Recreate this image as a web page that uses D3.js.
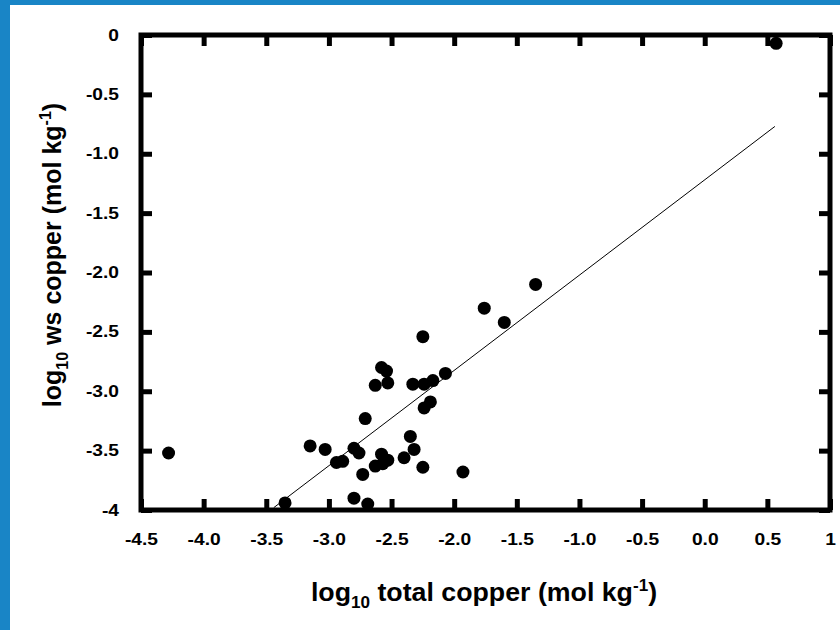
<!DOCTYPE html>
<html>
<head>
<meta charset="utf-8">
<script src="https://cdn.jsdelivr.net/npm/d3@7/dist/d3.min.js"></script>
<style>
  html, body { margin: 0; padding: 0; background: #ffffff; }
  svg { display: block; }
</style>
</head>
<body>
<svg id="chart" width="840" height="630"></svg>
<script>
// ---- data ----
const totalCopper = [-4.28, -3.15, -3.03, -2.94, -2.89, -2.80, -2.76, -2.73, -2.71, -2.80, -2.69,
  -2.63, -2.58, -2.54, -2.53, -2.63, -2.58, -2.53, -2.57, -2.40, -2.35, -2.32, -2.25,
  -2.33, -2.24, -2.17, -2.07, -2.19, -2.24, -2.25, -1.93, -1.76, -1.60, -1.35, 0.57, -3.35];
const wsCopper = [-3.52, -3.46, -3.49, -3.60, -3.59, -3.48, -3.52, -3.70, -3.23, -3.90, -3.95,
  -2.95, -2.80, -2.83, -2.93, -3.63, -3.53, -3.58, -3.61, -3.56, -3.38, -3.49, -3.64,
  -2.94, -2.94, -2.91, -2.85, -3.09, -3.14, -2.54, -3.68, -2.30, -2.42, -2.10, -0.07, -3.94];
const fitX = [-3.44, 0.56];
const fitY = [-3.98, -0.77];
const xTicks = [-4.5, -4.0, -3.5, -3.0, -2.5, -2.0, -1.5, -1.0, -0.5, 0.0, 0.5, 1.0];
const xTickLabels = ["-4.5", "-4.0", "-3.5", "-3.0", "-2.5", "-2.0", "-1.5", "-1.0", "-0.5", "0.0", "0.5", "1"];
const yTicks = [0, -0.5, -1.0, -1.5, -2.0, -2.5, -3.0, -3.5, -4.0];
const yTickLabels = ["0", "-0.5", "-1.0", "-1.5", "-2.0", "-2.5", "-3.0", "-3.5", "-4"];

// ---- layout ----
const svg = d3.select("#chart");
const W = 840, H = 630;
const mLeft = 141, mRight = 830, mTop = 35, mBottom = 510;
const FONT = "'Liberation Sans', Arial, Helvetica, sans-serif";
const SX = 1.2; // horizontal stretch of tick text

// blue border (top and left)
svg.append("rect").attr("x", 0).attr("y", 0).attr("width", W).attr("height", 5).attr("fill", "#1985c6");
svg.append("rect").attr("x", 0).attr("y", 0).attr("width", 10).attr("height", H).attr("fill", "#1985c6");

const x = d3.scaleLinear().domain([-4.5, 1]).range([mLeft, mRight]);
const y = d3.scaleLinear().domain([-4, 0]).range([mBottom, mTop]);

function styleAxis(g) {
  g.select(".domain").remove();
  g.selectAll(".tick line").attr("stroke", "#000").attr("stroke-width", 5);
  g.selectAll(".tick text").attr("fill", "#000")
    .style("font-family", FONT).style("font-weight", "bold").style("font-size", "16px")
    .each(function() {
      const t = d3.select(this);
      const tx = +t.attr("x") || 0;
      t.attr("x", tx / SX).attr("transform", `scale(${SX},1)`);
    });
}

// bottom axis
svg.append("g").attr("transform", `translate(0,${mBottom})`)
  .call(d3.axisBottom(x).tickValues(xTicks).tickSize(-11).tickPadding(24)
    .tickFormat((d, i) => xTickLabels[i]))
  .call(styleAxis);
// left axis
svg.append("g").attr("transform", `translate(${mLeft},0)`)
  .call(d3.axisLeft(y).tickValues(yTicks).tickSize(-11).tickPadding(22)
    .tickFormat((d, i) => yTickLabels[i]))
  .call(styleAxis);
// top axis (ticks only)
svg.append("g").attr("transform", `translate(0,${mTop})`)
  .call(d3.axisTop(x).tickValues(xTicks).tickSize(-11).tickFormat(""))
  .call(styleAxis);
// right axis (ticks only)
svg.append("g").attr("transform", `translate(${mRight},0)`)
  .call(d3.axisRight(y).tickValues(yTicks).tickSize(-11).tickFormat(""))
  .call(styleAxis);

// frame
svg.append("rect")
  .attr("x", x(-4.5)).attr("y", y(0))
  .attr("width", x(1) - x(-4.5)).attr("height", y(-4) - y(0))
  .attr("fill", "none").attr("stroke", "#000").attr("stroke-width", 5);

// regression line
svg.append("line")
  .attr("x1", x(fitX[0])).attr("y1", y(fitY[0]))
  .attr("x2", x(fitX[1])).attr("y2", y(fitY[1]))
  .attr("stroke", "#000").attr("stroke-width", 1);

// points
svg.append("g").selectAll("circle")
  .data(totalCopper.map((v, i) => [v, wsCopper[i]]))
  .join("circle")
  .attr("cx", d => x(d[0])).attr("cy", d => y(d[1]))
  .attr("r", 6.5).attr("fill", "#000");

// axis titles
function title(sel, main1, sub, main2, sup, main3) {
  sel.style("font-family", FONT).style("font-weight", "bold").style("font-size", "25px")
    .attr("fill", "#000").attr("text-anchor", "middle");
  sel.append("tspan").text(main1);
  sel.append("tspan").text(sub).style("font-size", "16px").attr("dy", 7);
  sel.append("tspan").text(main2).attr("dy", -7);
  sel.append("tspan").text(sup).style("font-size", "16px").attr("dy", -10);
  sel.append("tspan").text(main3).attr("dy", 10);
}
svg.append("text").attr("transform", "translate(484,601) scale(1.07,1)")
  .call(title, "log", "10", " total copper (mol kg", "-1", ")");
svg.append("text").attr("transform", "translate(61,255) rotate(-90)")
  .call(title, "log", "10", " ws copper (mol kg", "-1", ")");
</script>
</body>
</html>
